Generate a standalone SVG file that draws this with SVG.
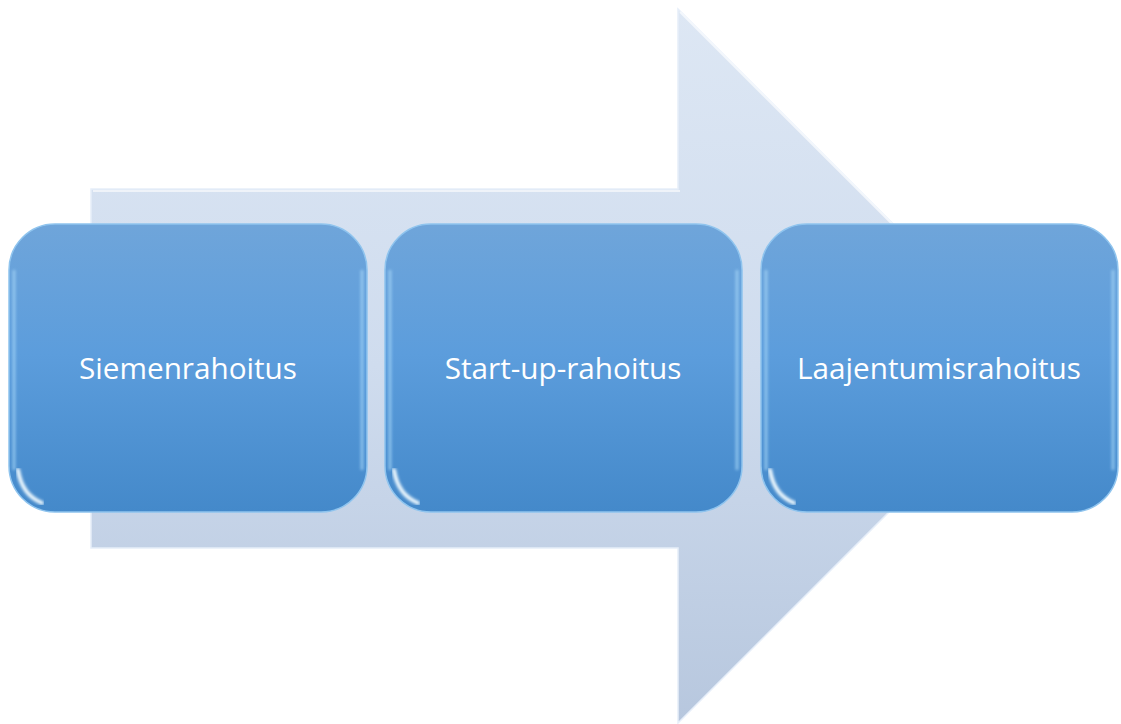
<svg xmlns="http://www.w3.org/2000/svg" width="1121" height="724" viewBox="0 0 1121 724">
  <defs>
    <linearGradient id="arrowFill" x1="0" y1="0" x2="0" y2="1">
      <stop offset="0" stop-color="#dde7f4"/>
      <stop offset="0.5" stop-color="#cfdcee"/>
      <stop offset="1" stop-color="#b7c7de"/>
    </linearGradient>
    <linearGradient id="boxFill" x1="0" y1="0" x2="0" y2="1">
      <stop offset="0" stop-color="#6fa5da"/>
      <stop offset="0.45" stop-color="#5c9ddc"/>
      <stop offset="1" stop-color="#4489ca"/>
    </linearGradient>
    <linearGradient id="topShine" x1="0" y1="0" x2="1" y2="0">
      <stop offset="0" stop-color="#ffffff" stop-opacity="0"/>
      <stop offset="0.1" stop-color="#eef9ff" stop-opacity="1"/>
      <stop offset="0.9" stop-color="#eef9ff" stop-opacity="1"/>
      <stop offset="1" stop-color="#ffffff" stop-opacity="0"/>
    </linearGradient>
    <filter id="soft" x="-5%" y="-5%" width="110%" height="110%">
      <feGaussianBlur stdDeviation="1.5"/>
    </filter>
  </defs>
  <style>
    .box { fill: url(#boxFill); stroke: #8fc4ee; stroke-width: 1.5; }
    .shine { fill: none; stroke: url(#topShine); stroke-width: 4; filter: url(#soft); }
    .glint { fill: none; stroke: #f2fbff; stroke-width: 4; stroke-linecap: round; filter: url(#soft); }
    .side { fill: none; stroke: #a8d8f8; stroke-width: 2.5; filter: url(#soft); opacity: 0.8; }
    .label { font-family: "Open Sans", "Noto Sans", sans-serif; font-size: 29.7px; fill: #ffffff; text-anchor: middle; }
  </style>

  <!-- background arrow -->
  <g id="arrow">
    <path d="M91,189 L678,189 L678,9 L1035,366 L678,723 L678,548 L91,548 Z" fill="url(#arrowFill)" stroke="#e6eef9" stroke-width="1.5"/>
    <path d="M93,191 L680,191 M680,12 L1030,362" fill="none" stroke="#ffffff" stroke-width="2" opacity="0.6"/>
  </g>

  <g id="connectors"></g>

  <!-- stage 1 -->
  <g id="node-siemen">
    <rect class="box" x="9" y="224" width="358" height="288" rx="46" ry="46"/>
    <path class="shine" d="M40,231 L336,231"/>
    <path class="side" d="M14,270 L14,470 M362,270 L362,470"/>
    <path class="glint" d="M18,470 Q22,495 42,503"/>
    <text class="label" x="188" y="379">Siemenrahoitus</text>
  </g>

  <!-- stage 2 -->
  <g id="node-startup">
    <rect class="box" x="385" y="224" width="357" height="288" rx="46" ry="46"/>
    <path class="shine" d="M416,231 L711,231"/>
    <path class="side" d="M390,270 L390,470 M737,270 L737,470"/>
    <path class="glint" d="M394,470 Q398,495 418,503"/>
    <text class="label" x="563" y="379">Start-up-rahoitus</text>
  </g>

  <!-- stage 3 -->
  <g id="node-laajentumis">
    <rect class="box" x="761" y="224" width="357" height="288" rx="46" ry="46"/>
    <path class="shine" d="M792,231 L1087,231"/>
    <path class="side" d="M766,270 L766,470 M1113,270 L1113,470"/>
    <path class="glint" d="M770,470 Q774,495 794,503"/>
    <text class="label" x="939" y="379">Laajentumisrahoitus</text>
  </g>
</svg>
